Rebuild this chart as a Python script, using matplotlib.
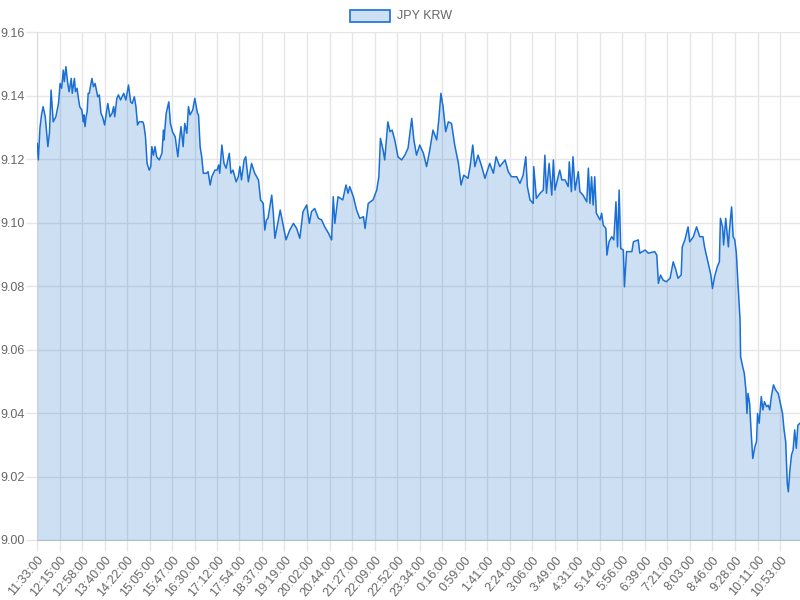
import matplotlib
matplotlib.use('Agg')
import matplotlib.pyplot as plt
import numpy as np

plt.rcParams['font.family'] = ['Liberation Sans', 'DejaVu Sans']

# minutes elapsed since 11:33:00, and JPY/KRW value
minutes = [0, 2, 5, 8, 11, 15, 20, 23, 26, 30, 35, 40, 43, 46, 49, 51, 54, 57, 60, 64,
           66, 70, 72, 75, 78, 80, 84, 87, 88, 90, 92, 94, 96, 98, 103, 106, 109, 114, 117, 120,
           123, 127, 131, 133, 137, 141, 144, 146, 150, 153, 157, 163, 167, 172, 176, 179, 183, 186, 189, 192,
           199, 201, 204, 207, 211, 214, 216, 219, 222, 225, 230, 235, 238, 239, 243, 248, 251, 255, 260, 265,
           268, 271, 275, 278, 282, 285, 288, 293, 297, 302, 304, 307, 310, 313, 319, 322, 326, 329, 335, 339,
           342, 344, 348, 352, 356, 362, 365, 369, 375, 379, 382, 385, 390, 393, 398, 404, 410, 417, 421, 426,
           429, 432, 435, 442, 445, 448, 454, 458, 463, 469, 476, 483, 489, 495, 501, 508, 513, 517, 523, 530,
           536, 542, 549, 555, 558, 561, 567, 576, 582, 586, 589, 596, 602, 608, 615, 618, 624, 633, 640, 644,
           647, 652, 655, 661, 665, 669, 674, 680, 687, 693, 699, 706, 710, 715, 721, 728, 734, 740, 746, 753,
           757, 761, 765, 770, 775, 781, 787, 794, 799, 804, 812, 816, 821, 825, 831, 838, 844, 853, 860, 865,
           872, 882, 888, 894, 904, 910, 916, 921, 924, 929, 935, 936, 941, 948, 954, 957, 960, 965, 970, 973,
           976, 982, 985, 989, 995, 1001, 1003, 1007, 1010, 1014, 1020, 1023, 1029, 1036, 1039, 1042, 1045, 1048, 1051, 1054,
           1061, 1064, 1067, 1072, 1074, 1078, 1083, 1087, 1091, 1094, 1097, 1100, 1105, 1107, 1111, 1121, 1124, 1133, 1136, 1146,
           1152, 1164, 1168, 1171, 1175, 1180, 1186, 1193, 1199, 1204, 1208, 1214, 1216, 1221, 1227, 1230, 1237, 1243, 1249, 1255,
           1258, 1265, 1270, 1273, 1277, 1282, 1286, 1288, 1292, 1294, 1298, 1303, 1305, 1309, 1312, 1315, 1318, 1321, 1325, 1326,
           1330, 1333, 1336, 1338, 1340, 1343, 1346, 1349, 1353, 1356, 1358, 1361, 1365, 1368, 1371, 1375, 1378, 1381, 1384, 1388,
           1392, 1397, 1401, 1405, 1408, 1411, 1414, 1416, 1419, 1422, 1425, 1428, 1431, 1434, 1438]

rates = [9.1250, 9.1198, 9.1298, 9.1340, 9.1366, 9.1334, 9.1240, 9.1284, 9.1418, 9.1318,
         9.1334, 9.1376, 9.1439, 9.1424, 9.1481, 9.1445, 9.1492, 9.1445, 9.1413, 9.1455,
         9.1408, 9.1455, 9.1413, 9.1424, 9.1387, 9.1366, 9.1355, 9.1318, 9.1340, 9.1303,
         9.1334, 9.1350, 9.1408, 9.1408, 9.1455, 9.1429, 9.1439, 9.1397, 9.1403, 9.1345,
         9.1334, 9.1308, 9.1355, 9.1376, 9.1334, 9.1345, 9.1366, 9.1334, 9.1392, 9.1403,
         9.1387, 9.1408, 9.1387, 9.1434, 9.1381, 9.1376, 9.1397, 9.1366, 9.1308, 9.1318,
         9.1318, 9.1308, 9.1271, 9.1187, 9.1166, 9.1177, 9.1240, 9.1213, 9.1240, 9.1208,
         9.1198, 9.1219, 9.1292, 9.1261, 9.1345, 9.1381, 9.1313, 9.1287, 9.1271, 9.1208,
         9.1261, 9.1303, 9.1240, 9.1313, 9.1282, 9.1366, 9.1340, 9.1355, 9.1392, 9.1345,
         9.1340, 9.1240, 9.1208, 9.1156, 9.1156, 9.1161, 9.1119, 9.1145, 9.1166, 9.1166,
         9.1182, 9.1156, 9.1245, 9.1187, 9.1172, 9.1219, 9.1156, 9.1166, 9.1129, 9.1145,
         9.1177, 9.1135, 9.1198, 9.1208, 9.1129, 9.1187, 9.1156, 9.1135, 9.1072, 9.1061,
         9.0977, 9.1009, 9.1014, 9.1087, 9.1030, 9.0951, 9.1003, 9.1040, 9.0998, 9.0946,
         9.0977, 9.0998, 9.0982, 9.0951, 9.1035, 9.1056, 9.0998, 9.1035, 9.1045, 9.1014,
         9.1009, 9.0987, 9.0967, 9.0946, 9.1082, 9.0998, 9.1082, 9.1072, 9.1119, 9.1093,
         9.1114, 9.1082, 9.1040, 9.1014, 9.1019, 9.0982, 9.1061, 9.1072, 9.1103, 9.1145,
         9.1266, 9.1229, 9.1198, 9.1318, 9.1287, 9.1292, 9.1261, 9.1208, 9.1198, 9.1213,
         9.1235, 9.1329, 9.1261, 9.1213, 9.1245, 9.1219, 9.1177, 9.1229, 9.1292, 9.1261,
         9.1324, 9.1408, 9.1366, 9.1287, 9.1318, 9.1313, 9.1245, 9.1187, 9.1119, 9.1150,
         9.1140, 9.1177, 9.1245, 9.1177, 9.1213, 9.1177, 9.1140, 9.1187, 9.1156, 9.1208,
         9.1177, 9.1198, 9.1161, 9.1145, 9.1145, 9.1124, 9.1150, 9.1208, 9.1114, 9.1072,
         9.1061, 9.1177, 9.1077, 9.1093, 9.1103, 9.1213, 9.1093, 9.1187, 9.1087, 9.1198,
         9.1103, 9.1145, 9.1166, 9.1135, 9.1135, 9.1114, 9.1192, 9.1098, 9.1208, 9.1103,
         9.1161, 9.1098, 9.1087, 9.1066, 9.1172, 9.1061, 9.1145, 9.1056, 9.1145, 9.1030,
         9.1009, 9.1030, 9.0993, 9.0982, 9.0898, 9.0940, 9.0956, 9.0946, 9.1066, 9.0924,
         9.1103, 9.0919, 9.0914, 9.0798, 9.0909, 9.0909, 9.0940, 9.0946, 9.0904, 9.0914,
         9.0904, 9.0909, 9.0898, 9.0809, 9.0835, 9.0819, 9.0814, 9.0825, 9.0877, 9.0851,
         9.0825, 9.0835, 9.0924, 9.0946, 9.0987, 9.0940, 9.0956, 9.0987, 9.0956, 9.0956,
         9.0924, 9.0872, 9.0835, 9.0793, 9.0830, 9.0861, 9.0877, 9.1014, 9.0987, 9.0930,
         9.1014, 9.0924, 9.0977, 9.1050, 9.0956, 9.0946, 9.0904, 9.0809, 9.0693, 9.0578,
         9.0546, 9.0525, 9.0473, 9.0399, 9.0462, 9.0431, 9.0336, 9.0257, 9.0294, 9.0310,
         9.0399, 9.0368, 9.0452, 9.0410, 9.0436, 9.0420, 9.0425, 9.0410, 9.0452, 9.0489,
         9.0473, 9.0462, 9.0431, 9.0399, 9.0347, 9.0310, 9.0179, 9.0152, 9.0221, 9.0268,
         9.0284, 9.0347, 9.0289, 9.0362, 9.0368]

tick_labels = ['11:33:00', '12:15:00', '12:58:00', '13:40:00', '14:22:00', '15:05:00',
               '15:47:00', '16:30:00', '17:12:00', '17:54:00', '18:37:00', '19:19:00',
               '20:02:00', '20:44:00', '21:27:00', '22:09:00', '22:52:00', '23:34:00',
               '0:16:00', '0:59:00', '1:41:00', '2:24:00', '3:06:00', '3:49:00',
               '4:31:00', '5:14:00', '5:56:00', '6:39:00', '7:21:00', '8:03:00',
               '8:46:00', '9:28:00', '10:11:00', '10:53:00']
y_ticks = [9.00, 9.02, 9.04, 9.06, 9.08, 9.10, 9.12, 9.14, 9.16]

# label -> minutes since start (wrap past midnight)
def to_min(s):
    h, m, _ = s.split(':')
    t = int(h) * 60 + int(m) - (11 * 60 + 33)
    return t if t >= 0 else t + 24 * 60

tick_pos = [to_min(s) for s in tick_labels]

line_col = '#1a6fd4'
fill_rgba = (0.02, 0.39, 0.76, 0.2)   # see-through, grid shows under it
grid_col = '#e6e6e6'
text_col = '#666666'

fig = plt.figure(figsize=(8, 6), dpi=100)
ax = fig.add_axes([0.0466, 0.1, 0.9534, 0.846])

ax.fill_between(minutes, rates, 9.0, color=fill_rgba, lw=0, zorder=3)
ax.plot(minutes, rates, color=line_col, lw=1.1, zorder=4)

ax.set_xlim(0, 1438)
ax.set_ylim(9.0, 9.16)
ax.set_yticks(y_ticks)
ax.set_yticklabels(['%.2f' % v for v in y_ticks])
ax.set_xticks(tick_pos)
ax.set_xticklabels(tick_labels, rotation=50, ha='right', rotation_mode='anchor')

ax.grid(True, color=grid_col, lw=1, zorder=0)
ax.set_axisbelow(True)
for s in ['top', 'right']:
    ax.spines[s].set_visible(False)
ax.spines['left'].set_color('#d9d9d9')
ax.spines['bottom'].set_color('#c8c8c8')
ax.tick_params(axis='both', colors=grid_col, labelcolor=text_col, labelsize=9, length=8, width=1)
ax.tick_params(axis='x', pad=2)
ax.tick_params(axis='y', pad=1)

# legend like Chart.js: box + label centered on top
fig.patches.append(plt.Rectangle((350 / 800, 1 - 22 / 600), 40 / 800, 12 / 600,
                                 transform=fig.transFigure, facecolor=fill_rgba,
                                 edgecolor=line_col, lw=1.2))
fig.text(397 / 800, 1 - 16 / 600, 'JPY KRW', color=text_col, fontsize=9, va='center', ha='left')

fig.savefig('out.png', dpi=100)
